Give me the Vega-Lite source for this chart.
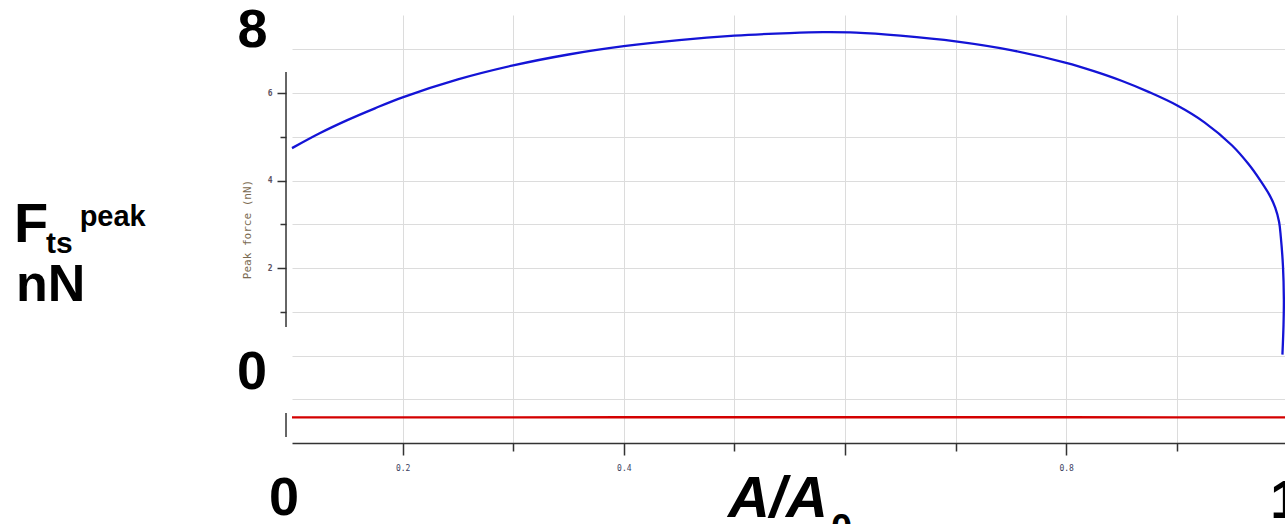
{
  "$schema": "https://vega.github.io/schema/vega-lite/v6.json",
  "autosize": {"type": "none"},
  "padding": {"left": 292, "top": 15, "right": 0, "bottom": 81},
  "width": 993,
  "height": 428,
  "background": "white",
  "config": {"view": {"stroke": null}},
  "datasets": {
    "peak": [
      {"i": 1, "ratio": 0.100, "force": 4.74},
      {"i": 2, "ratio": 0.125, "force": 5.08},
      {"i": 3, "ratio": 0.150, "force": 5.38},
      {"i": 4, "ratio": 0.175, "force": 5.65},
      {"i": 5, "ratio": 0.200, "force": 5.90},
      {"i": 6, "ratio": 0.250, "force": 6.31},
      {"i": 7, "ratio": 0.300, "force": 6.63},
      {"i": 8, "ratio": 0.350, "force": 6.88},
      {"i": 9, "ratio": 0.400, "force": 7.07},
      {"i": 10, "ratio": 0.450, "force": 7.21},
      {"i": 11, "ratio": 0.500, "force": 7.31},
      {"i": 12, "ratio": 0.550, "force": 7.37},
      {"i": 13, "ratio": 0.580, "force": 7.39},
      {"i": 14, "ratio": 0.610, "force": 7.38},
      {"i": 15, "ratio": 0.650, "force": 7.31},
      {"i": 16, "ratio": 0.700, "force": 7.18},
      {"i": 17, "ratio": 0.750, "force": 6.98},
      {"i": 18, "ratio": 0.800, "force": 6.69},
      {"i": 19, "ratio": 0.825, "force": 6.50},
      {"i": 20, "ratio": 0.850, "force": 6.28},
      {"i": 21, "ratio": 0.875, "force": 6.02},
      {"i": 22, "ratio": 0.900, "force": 5.72},
      {"i": 23, "ratio": 0.925, "force": 5.33},
      {"i": 24, "ratio": 0.950, "force": 4.80},
      {"i": 25, "ratio": 0.965, "force": 4.37},
      {"i": 26, "ratio": 0.975, "force": 4.02},
      {"i": 27, "ratio": 0.984, "force": 3.66},
      {"i": 28, "ratio": 0.989, "force": 3.38},
      {"i": 29, "ratio": 0.9925, "force": 3.05},
      {"i": 30, "ratio": 0.994, "force": 2.72},
      {"i": 31, "ratio": 0.996, "force": 2.04},
      {"i": 32, "ratio": 0.9968, "force": 1.28},
      {"i": 33, "ratio": 0.9965, "force": 0.70},
      {"i": 34, "ratio": 0.9955, "force": 0.02}
    ],
    "lower": [
      {"ratio": 0.100, "force": -1.415},
      {"ratio": 0.200, "force": -1.415},
      {"ratio": 0.300, "force": -1.415},
      {"ratio": 0.400, "force": -1.413},
      {"ratio": 0.500, "force": -1.413},
      {"ratio": 0.600, "force": -1.413},
      {"ratio": 0.700, "force": -1.413},
      {"ratio": 0.800, "force": -1.413},
      {"ratio": 0.900, "force": -1.414},
      {"ratio": 0.998, "force": -1.415}
    ],
    "axisSegments": [
      {"ratio": 0.09458, "from": 6.48, "to": 0.651},
      {"ratio": 0.09458, "from": -1.314, "to": -1.863}
    ]
  },
  "layer": [
    {
      "data": {"name": "peak"},
      "mark": {"type": "line", "color": "#1414d6", "strokeWidth": 2.3, "interpolate": "catmull-rom"},
      "encoding": {
        "x": {
          "field": "ratio", "type": "quantitative",
          "scale": {"domain": [0.1, 0.99783], "nice": false, "zero": false},
          "axis": {
            "values": [0.2, 0.3, 0.4, 0.5, 0.6, 0.7, 0.8, 0.9],
            "format": ".1f",
            "title": null,
            "grid": true,
            "gridColor": "#dcdcdc",
            "gridWidth": 1,
            "domainColor": "#333333",
            "domainWidth": 1.5,
            "tickColor": "#333333",
            "tickWidth": 1.5,
            "tickSize": {"condition": {"test": "round(datum.value*10) % 2 == 0", "value": 12}, "value": 8},
            "labelExpr": "(round(datum.value*10) % 2 == 0 && round(datum.value*10) != 6) ? datum.label : ''",
            "labelFont": "DejaVu Sans Mono",
            "labelFontSize": 8,
            "labelColor": "#3a4060",
            "labelPadding": 9
          }
        },
        "y": {
          "field": "force", "type": "quantitative",
          "scale": {"domain": [-2, 7.783], "nice": false, "zero": false},
          "axis": {
            "values": [-1, 0, 1, 2, 3, 4, 5, 6, 7],
            "offset": 6,
            "domain": false,
            "grid": true,
            "gridColor": "#dcdcdc",
            "gridWidth": 1,
            "tickColor": "#333333",
            "tickWidth": 1.5,
            "tickOpacity": {"condition": {"test": "datum.value < 1 || datum.value > 6", "value": 0}, "value": 1},
            "tickSize": {"condition": {"test": "datum.value % 2 == 0", "value": 9}, "value": 6},
            "labelExpr": "(datum.value == 2 || datum.value == 4 || datum.value == 6) ? datum.label : ''",
            "labelFont": "DejaVu Sans Mono",
            "labelFontSize": 8,
            "labelFontWeight": "bold",
            "labelColor": "#5a5060",
            "labelPadding": 5,
            "title": "Peak force (nN)",
            "titleFont": "DejaVu Sans Mono",
            "titleFontSize": 11,
            "titleFontWeight": "normal",
            "titleColor": "#7a6a50",
            "titlePadding": 15
          }
        },
        "order": {"field": "i", "type": "quantitative"}
      }
    },
    {
      "data": {"name": "lower"},
      "mark": {"type": "line", "color": "#d40000", "strokeWidth": 2.4},
      "encoding": {
        "x": {"field": "ratio", "type": "quantitative"},
        "y": {"field": "force", "type": "quantitative"}
      }
    },
    {
      "data": {"name": "axisSegments"},
      "mark": {"type": "rule", "color": "#333333", "strokeWidth": 1.5},
      "encoding": {
        "x": {"field": "ratio", "type": "quantitative"},
        "y": {"field": "from", "type": "quantitative"},
        "y2": {"field": "to"}
      }
    },
    {
      "data": {"values": [
        {"label": "8", "ratio": 0.0643, "force": 7.05},
        {"label": "0", "ratio": 0.0638, "force": -0.76},
        {"label": "0", "ratio": 0.0928, "force": -3.64},
        {"label": "1", "ratio": 0.998, "force": -3.72}
      ]},
      "mark": {"type": "text", "font": "Liberation Sans", "fontWeight": "bold", "fontSize": 54, "align": "center", "baseline": "alphabetic", "color": "black"},
      "encoding": {
        "x": {"field": "ratio", "type": "quantitative"},
        "y": {"field": "force", "type": "quantitative"},
        "text": {"field": "label"}
      }
    },
    {
      "data": {"values": [
        {"label": "F", "ratio": -0.1513, "force": 2.60}
      ]},
      "mark": {"type": "text", "font": "Liberation Sans", "fontWeight": "bold", "fontSize": 56, "align": "left", "baseline": "alphabetic", "color": "black"},
      "encoding": {
        "x": {"field": "ratio", "type": "quantitative"},
        "y": {"field": "force", "type": "quantitative"},
        "text": {"field": "label"}
      }
    },
    {
      "data": {"values": [
        {"label": "nN", "ratio": -0.1495, "force": 1.25}
      ]},
      "mark": {"type": "text", "font": "Liberation Sans", "fontWeight": "bold", "fontSize": 52, "align": "left", "baseline": "alphabetic", "color": "black"},
      "encoding": {
        "x": {"field": "ratio", "type": "quantitative"},
        "y": {"field": "force", "type": "quantitative"},
        "text": {"field": "label"}
      }
    },
    {
      "data": {"values": [
        {"label": "ts", "ratio": -0.1224, "force": 2.35}
      ]},
      "mark": {"type": "text", "font": "Liberation Sans", "fontWeight": "bold", "fontSize": 30, "align": "left", "baseline": "alphabetic", "color": "black"},
      "encoding": {
        "x": {"field": "ratio", "type": "quantitative"},
        "y": {"field": "force", "type": "quantitative"},
        "text": {"field": "label"}
      }
    },
    {
      "data": {"values": [
        {"label": "peak", "ratio": -0.092, "force": 2.96}
      ]},
      "mark": {"type": "text", "font": "Liberation Sans", "fontWeight": "bold", "fontSize": 29, "align": "left", "baseline": "alphabetic", "color": "black"},
      "encoding": {
        "x": {"field": "ratio", "type": "quantitative"},
        "y": {"field": "force", "type": "quantitative"},
        "text": {"field": "label"}
      }
    },
    {
      "data": {"values": [
        {"label": "A/A", "ratio": 0.4942, "force": -3.70}
      ]},
      "mark": {"type": "text", "font": "Liberation Sans", "fontWeight": "bold", "fontStyle": "italic", "fontSize": 58, "align": "left", "baseline": "alphabetic", "color": "black"},
      "encoding": {
        "x": {"field": "ratio", "type": "quantitative"},
        "y": {"field": "force", "type": "quantitative"},
        "text": {"field": "label"}
      }
    },
    {
      "data": {"values": [
        {"label": "0", "ratio": 0.5873, "force": -4.25}
      ]},
      "mark": {"type": "text", "font": "Liberation Sans", "fontWeight": "bold", "fontSize": 38, "align": "left", "baseline": "alphabetic", "color": "black"},
      "encoding": {
        "x": {"field": "ratio", "type": "quantitative"},
        "y": {"field": "force", "type": "quantitative"},
        "text": {"field": "label"}
      }
    }
  ]
}
